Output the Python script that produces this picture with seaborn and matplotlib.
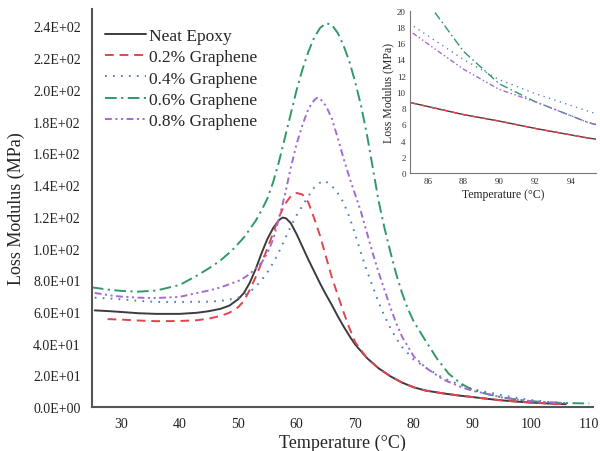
import numpy as np
import pandas as pd
import matplotlib
matplotlib.use("Agg")
import matplotlib.pyplot as plt
import seaborn as sns

# Loss modulus (MPa) vs temperature (C)
t_neat = [25.5, 28, 30, 33, 36, 40, 43, 45, 47, 48.5, 50, 51, 52, 53, 54, 55, 56, 57, 57.6, 58.2,
          59, 60, 61, 62, 63, 64, 65, 66, 67, 68, 69, 70, 72, 74, 76, 78, 80, 82, 85, 88,
          90, 92, 95, 98, 100, 103, 106]
e_neat = [61, 60.5, 60, 59.2, 58.8, 58.8, 59.5, 60.5, 62, 64, 68, 72, 78.5, 87, 97, 106, 113, 118, 119.5, 119,
          116, 109, 101, 93, 85.5, 78, 71, 64.5, 57.5, 51, 45, 39.5, 31, 24.5, 19.5, 15.5, 12.5, 10.5, 8.7, 7.2,
          6.4, 5.5, 4.3, 3.4, 2.9, 2.3, 1.9]

t_02 = [27.7, 30, 33, 36, 40, 43, 45, 47, 48.5, 50, 51, 52, 53, 54, 55, 56, 57, 58, 59, 60,
        61, 62, 63, 64, 65, 66, 67, 68, 69, 70, 72, 74, 76, 78, 80, 82, 85, 88, 90, 92,
        95, 98, 100, 103, 106]
e_02 = [55.5, 55.2, 54.6, 54.2, 54.3, 54.8, 55.8, 57.5, 59.5, 63, 67, 74, 82, 91, 100, 110, 120, 128, 133, 135,
        134, 129, 119, 108, 95, 82, 71, 60, 50, 41, 31, 24.5, 19.5, 15.5, 12.5, 10.5, 8.7, 7.2, 6.4, 5.5,
        4.3, 3.4, 2.9, 2.3, 1.9]

t_04 = [25.5, 28, 30, 33, 36, 40, 43, 45, 47, 48.5, 50, 51, 52, 53, 54, 55, 56, 57, 58, 59,
        60, 61, 62, 63, 64, 64.5, 65, 66, 67, 68, 69, 70, 71, 72, 73, 74, 75, 76, 77, 78,
        80, 82, 85, 88, 90, 92, 95, 98, 100, 103, 106]
e_04 = [69, 68.5, 68, 67, 66.3, 66.3, 66.4, 66.5, 67, 67.8, 69, 70.5, 72.5, 76, 80, 85, 91, 98, 106, 114,
        121, 127, 133, 138.5, 141.5, 142.6, 142.3, 139.5, 135, 129, 120, 109, 97, 86, 76, 66, 57.5, 50, 43.5, 38,
        30, 25, 18.4, 14, 11.5, 9.8, 7.6, 5.5, 4.5, 3.3, 2.6]

t_06 = [25, 28, 30, 33, 36, 40, 43, 45, 47, 49, 51, 53, 54, 55, 56, 57, 58, 59, 60, 61,
        62, 63, 64, 65, 66, 67, 68, 69, 70, 71, 72, 73, 74, 75, 76, 77, 78, 79, 80, 82,
        84, 86, 88, 90, 92, 95, 98, 100, 103, 106, 110]
e_06 = [75.5, 74, 73.3, 72.8, 73.5, 77, 83, 87.5, 92.5, 99, 107, 117.5, 124, 131.5, 142, 155, 170, 185, 200, 213,
        224, 233, 239, 242, 241, 236, 228, 218, 205, 190, 172, 151, 130, 113, 98, 84, 72, 62, 54, 42,
        30.5, 21, 15, 11, 8.8, 6.2, 4.6, 3.8, 3, 2.6, 2.3]

t_08 = [25.5, 28, 30, 33, 36, 40, 43, 45, 47, 48.5, 50, 51, 52, 53, 54, 55, 56, 57, 58, 59,
        60, 61, 62, 63, 63.5, 64, 65, 66, 67, 68, 69, 70, 71, 72, 73, 74, 75, 76, 77, 78,
        80, 82, 85, 88, 90, 92, 95, 98, 100, 103, 106]
e_08 = [72, 70.5, 69.7, 69, 68.8, 69.5, 72, 73.5, 75.5, 77.5, 79.5, 81.5, 84, 87.5, 91, 97, 106, 119, 134, 151,
        166, 178, 188, 193.5, 195, 194.5, 190, 182, 170, 157, 145, 134, 123, 110, 97, 85, 74, 63, 53, 44.5,
        32, 25, 17.5, 12.8, 10.3, 8.8, 6.2, 4.5, 3.8, 3, 2.4]

names = ["Neat Epoxy", "0.2% Graphene", "0.4% Graphene", "0.6% Graphene", "0.8% Graphene"]
temps = [t_neat, t_02, t_04, t_06, t_08]
values = [e_neat, e_02, e_04, e_06, e_08]
colors = ["#3c3c3c", "#e0454d", "#4f7fc4", "#2f9a68", "#a36ad4"]
styles = ["-", (0, (4.5, 3)), (0, (0.9, 3.2)), (0, (6, 2.3, 1.1, 2.3)), (0, (3.5, 1.8, 1.1, 1.8, 1.1, 1.8))]

sns.set_style("white")
plt.rcParams["font.family"] = ["Liberation Serif", "DejaVu Serif"]

fig = plt.figure(figsize=(6, 4.52), dpi=100)
ax = fig.add_axes([0.153, 0.097, 0.835, 0.881])

for name, t, e, c, ls in zip(names, temps, values, colors, styles):
    df = pd.DataFrame({"T": t, "E": e})
    sns.lineplot(data=df, x="T", y="E", ax=ax, color=c, linestyle=ls, linewidth=1.4,
                 label=name, errorbar=None, legend=False)

ax.set_xlim(25, 110.6)
ax.set_ylim(0, 251)
ax.set_xticks(np.arange(30, 111, 10))
yt = np.arange(0, 241, 20)
ax.set_yticks(yt)
ax.set_yticklabels([f"{v:.1E}" for v in yt])
ax.tick_params(axis="both", length=0, labelsize=10, colors="#222222")
ax.tick_params(axis="y", pad=8)
ax.tick_params(axis="x", pad=7)
ax.set_xlabel("Temperature (°C)", fontsize=13, labelpad=3)
ax.set_ylabel("Loss Modulus (MPa)", fontsize=13, labelpad=6)
for s in ["top", "right"]:
    ax.spines[s].set_visible(False)
for s in ["left", "bottom"]:
    ax.spines[s].set_color("#555555")
    ax.spines[s].set_linewidth(1.5)

ax.legend(handles=ax.lines[:5], labels=names, loc="upper left", bbox_to_anchor=(0.026, 0.953),
          frameon=False, fontsize=12.5, handlelength=2.4, handletextpad=0.15,
          labelspacing=0.3, borderpad=0, borderaxespad=0)

# inset zoom on the tail
ins = fig.add_axes([0.683, 0.615, 0.31, 0.359])
for name, t, e, c, ls in zip(names, temps, values, colors, styles):
    sns.lineplot(x=t, y=e, ax=ins, color=c, linestyle=ls, linewidth=1.0, errorbar=None, legend=False)
ins.set_xlim(85, 95.4)
ins.set_ylim(0, 20)
ins.set_xticks([86, 88, 90, 92, 94])
ins.set_yticks(np.arange(0, 21, 2))
ins.tick_params(axis="both", length=0, labelsize=6.5, pad=3, colors="#333333")
ins.set_xlabel("Temperature (°C)", fontsize=8.5, labelpad=2)
ins.set_ylabel("Loss Modulus (MPa)", fontsize=8.5, labelpad=2)
for s in ["top", "right"]:
    ins.spines[s].set_visible(False)
for s in ["left", "bottom"]:
    ins.spines[s].set_color("#777777")
    ins.spines[s].set_linewidth(0.8)

fig.savefig("out.png", dpi=100)
